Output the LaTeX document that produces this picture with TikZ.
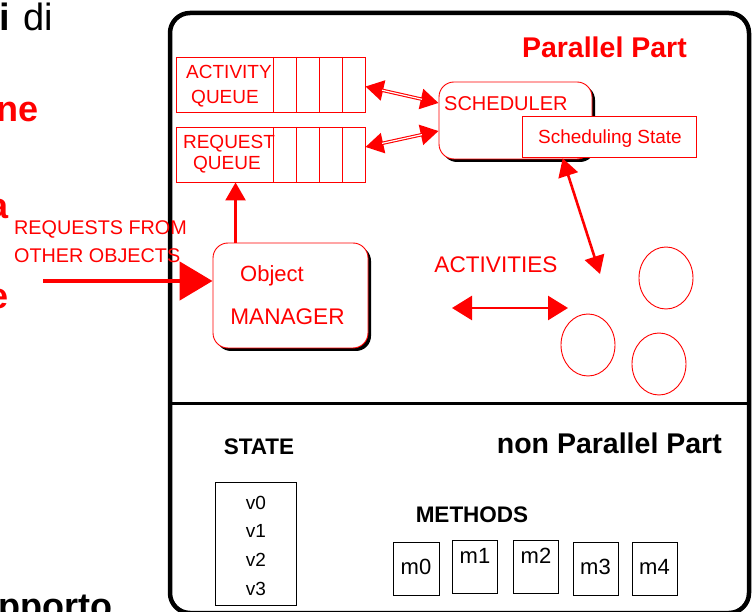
\documentclass[tikz,border=0pt]{standalone}
\usepackage{fontspec}
\setmainfont{Liberation Sans}
\usetikzlibrary{arrows.meta,shapes.geometric,shadows,calc}
\newcommand\fsz[1]{\fontsize{#1}{#1}\selectfont}
\tikzset{
  qtip/.tip={Triangle[length=18pt, width=20pt]},
  bigtip/.tip={Triangle[length=33pt, width=38pt]},
  acttip/.tip={Triangle[length=20pt, width=24pt]},
}
\begin{document}
\begin{tikzpicture}[x=1pt,y=-1pt,
  redbox/.style={draw=red, line width=0.9pt, fill=white, inner sep=0pt},
  shadowbox/.style={redbox, rounded corners=15pt,
    drop shadow={shadow xshift=3pt, shadow yshift=-3pt, fill=black, opacity=1}},
  blackbox/.style={draw=black, line width=0.9pt, inner sep=0pt},
  txt/.style={inner sep=0pt, anchor=base},
  redtxt/.style={txt, text=red, font=\fsz{19}},
  blktxt/.style={txt, text=black, font=\fsz{19}},
  blob/.style={draw=red, line width=0.9pt, ellipse, minimum width=54pt, minimum height=62pt, inner sep=0pt},
  dblarrow/.style={draw=red, line width=3.4pt, qtip-qtip},
  dblinner/.style={draw=white, line width=1.2pt, shorten <=17pt, shorten >=17pt},
  redarrow/.style={draw=red, line width=2.6pt},
]
\useasboundingbox (0,0) rectangle (756,612);

% fragments of the surrounding slide text
\node[txt, anchor=base east, font=\fsz{38}\bfseries] (fi) at (10,31) {i};
\node[txt, anchor=base west, font=\fsz{38}] (fdi) at (23.5,31) {di};
\node[txt, anchor=base east, text=red, font=\fsz{36}\bfseries] (fne) at (39,122) {ne};
\node[txt, anchor=base east, text=red, font=\fsz{36}\bfseries] (fa) at (9,219) {a};
\node[txt, anchor=base east, text=red, font=\fsz{36}\bfseries] (fe) at (9,309) {e};
\node[txt, anchor=base west, font=\fsz{36}\bfseries] (fpp) at (-2,619) {pporto};

% object frame and its two parts
\draw[line width=4.5pt, rounded corners=20pt] (170,13) rectangle (749,613);
\draw[line width=3.5pt] (170,403.5) -- (749,403.5);
\node[txt, anchor=base east, text=red, font=\fsz{28.5}\bfseries] (pp) at (687,58) {Parallel Part};
\node[txt, anchor=base east, font=\fsz{28.5}\bfseries] (npp) at (722,454) {non Parallel Part};

% queues
\node[redbox, fill=none, minimum width=189pt, minimum height=55pt] (aq) at (270.5,84.5) {};
\node[redbox, fill=none, minimum width=189pt, minimum height=55pt] (rq) at (270.5,154.5) {};
\foreach \cx in {273,296,319,342}{
  \draw[red, line width=0.9pt] (\cx,57) -- (\cx,112);
  \draw[red, line width=0.9pt] (\cx,127) -- (\cx,182);
}
\node[redtxt] (aq1) at (229,79) {ACTIVITY};
\node[redtxt] (aq2) at (225,104) {QUEUE};
\node[redtxt] (rq1) at (229,149) {REQUEST};
\node[redtxt] (rq2) at (227,170) {QUEUE};

% scheduler
\node[shadowbox, minimum width=153pt, minimum height=77pt] (sched) at (515.5,120.5) {};
\node[redtxt, anchor=base west, font=\fsz{20}] (schedt) at (444,111) {SCHEDULER};
\node[redbox, minimum width=174pt, minimum height=41.6pt] (ss) at (609.7,137) {};
\node[redtxt] (sst) at (610,144) {Scheduling State};

% queue <-> scheduler links
\draw[dblarrow] ([yshift=-2pt]aq.east) -- ([yshift=17.5pt]sched.west);
\draw[dblinner] ([yshift=-2pt]aq.east) -- ([yshift=17.5pt]sched.west);
\draw[dblarrow] ([yshift=7.5pt]rq.east) -- ([yshift=-10.5pt]sched.west);
\draw[dblinner] ([yshift=7.5pt]rq.east) -- ([yshift=-10.5pt]sched.west);

% object manager
\node[shadowbox, minimum width=155pt, minimum height=105pt] (om) at (290.5,295.5) {};
\node[redtxt, font=\fsz{22}] (om1) at (272,282) {Object};
\node[redtxt, font=\fsz{22.6}] (om2) at (287.5,325) {MANAGER};
\draw[redarrow, -qtip] ($(om.north west)+(23,0)$) -- ($(rq.south west)+(60,0)$);

% incoming requests
\node[redtxt, anchor=base west, font=\fsz{19.8}] (rqf1) at (14,235) {REQUESTS FROM};
\node[redtxt, anchor=base west, font=\fsz{19.8}] (rqf2) at (14,263) {OTHER OBJECTS};
\coordinate (src) at (43,281);
\draw[draw=red, line width=4.8pt, -bigtip] (src) -- (src -| om.west);

% activities
\coordinate (actA) at (600,274);
\draw[redarrow, qtip-qtip] ($(ss.south)+(-47,0)$) -- (actA);
\node[redtxt, font=\fsz{22.6}] (actt) at (496,273) {ACTIVITIES};
\coordinate (actL) at (452,308);
\coordinate (actR) at (568,308);
\draw[redarrow, acttip-acttip] (actL) -- (actR);
\node[blob] (a1) at (666,278) {};
\node[blob] (a2) at (588,345) {};
\node[blob] (a3) at (659,364) {};

% non parallel part: state and methods
\node[txt, font=\fsz{22.5}\bfseries] (st) at (259,455) {STATE};
\node[blackbox, minimum width=81pt, minimum height=123pt] (stbox) at (255.5,543.5) {};
\node[blktxt] (v0) at (256,510) {v0};
\node[blktxt] (v1) at (256,538) {v1};
\node[blktxt] (v2) at (256,567) {v2};
\node[blktxt] (v3) at (256,595) {v3};
\node[txt, font=\fsz{22.5}\bfseries] (meth) at (472,523) {METHODS};
\node[blackbox, minimum width=45.5pt, minimum height=52.3pt] (m0) at (416.2,568.8) {};
\node[blackbox, minimum width=45.7pt, minimum height=53pt] (m1) at (474.8,566.5) {};
\node[blackbox, minimum width=45.6pt, minimum height=53pt] (m2) at (535.8,566.5) {};
\node[blackbox, minimum width=45pt, minimum height=52.3pt] (m3) at (595.5,568.8) {};
\node[blackbox, minimum width=45pt, minimum height=52.3pt] (m4) at (654.5,568.8) {};
\node[blktxt, font=\fsz{22}] (m0t) at (416,575) {m0};
\node[blktxt, font=\fsz{22}] (m1t) at (475,563) {m1};
\node[blktxt, font=\fsz{22}] (m2t) at (536,563) {m2};
\node[blktxt, font=\fsz{22}] (m3t) at (595.5,575) {m3};
\node[blktxt, font=\fsz{22}] (m4t) at (654.5,574) {m4};
\end{tikzpicture}
\end{document}
